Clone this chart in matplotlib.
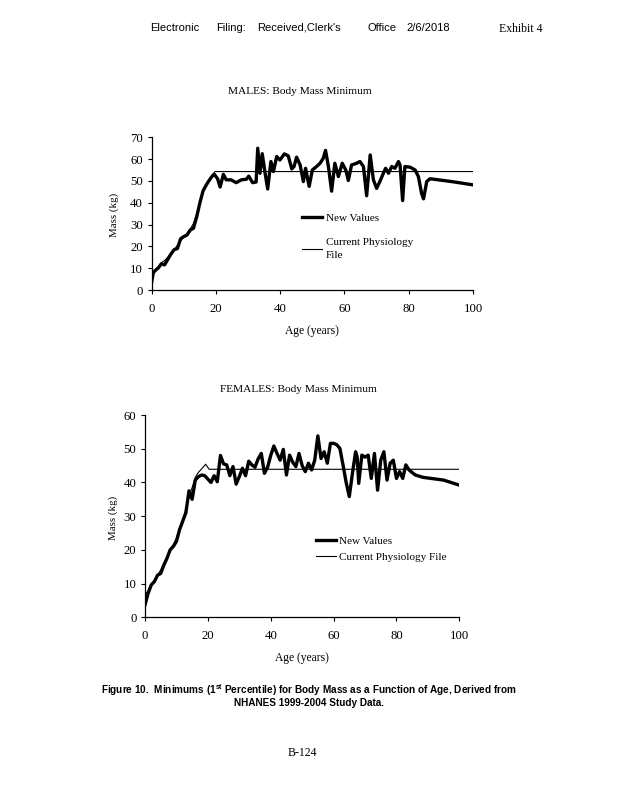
import matplotlib
matplotlib.use("Agg")
import matplotlib.pyplot as plt

plt.rcParams['font.family'] = ['Liberation Serif', 'DejaVu Serif']
plt.rcParams['mathtext.fontset'] = 'custom'
plt.rcParams['mathtext.bf'] = 'Liberation Sans:bold'
plt.rcParams['mathtext.rm'] = 'Liberation Sans'

# ---------------- data ----------------
male_new_age = [0, 0.5, 1.5, 2, 3, 4, 5, 6, 7, 8, 9, 10, 11, 12, 13, 14, 15, 16, 17, 18, 19,
                19.5, 20.5, 21.3, 22.3, 23.2, 24.7, 26.3, 27.9, 29.5, 30.2, 31.4, 32.5, 33,
                33.7, 34.4, 35.3, 36.1, 37.1, 37.9, 38.9, 39.9, 41.3, 42.5, 43.6, 44.3, 45.1,
                46.2, 47.2, 47.9, 49.0, 50, 51.3, 52.4, 53.4, 54.1, 55, 56, 57, 58.1, 59.3,
                60.4, 61.2, 62.2, 63.8, 64.8, 65.9, 66.9, 68, 69, 70, 71, 72.1, 72.8, 73.7,
                74.7, 75.7, 76.8, 77.3, 78.1, 78.8, 80.4, 82, 83, 84, 84.6, 85.6, 86.6,
                93.4, 100]
male_new_mass = [3.8, 8, 9.5, 10, 12, 11.5, 14, 16.5, 18.5, 19, 23.5, 24.5, 25.2, 27.5, 28.3,
                 33.5, 40, 45.5, 48.2, 50.5, 52.5, 53, 51, 47.2, 53, 50.5, 50.5, 49.2, 50.5,
                 50.8, 52.2, 49.2, 49.5, 65, 53.5, 62.5, 53.5, 46.3, 58.9, 54.3, 61.2, 59.6,
                 62.4, 61.5, 55.5, 56.6, 60.9, 57.3, 49.7, 55.8, 47.5, 55, 56.6, 58.1, 60.4,
                 64, 56.6, 45.3, 58.1, 52, 58.1, 55, 50.2, 57.3, 58.1, 58.9, 56.6, 43.2, 61.9,
                 50.5, 46.6, 49.7, 53.5, 55.8, 53.5, 56.6, 55.8, 58.9, 57.3, 41, 56.6, 56.3,
                 55, 52, 44.3, 41.8, 49.7, 51, 49.7, 48.2]

male_cur_age = [0, 1, 2, 3, 4, 5, 6, 7, 8, 9, 10, 11, 12, 13, 14, 15, 16, 17, 18, 19, 19.7, 100]
male_cur_mass = [6.5, 9, 10.5, 12.5, 13.5, 15, 17, 18.5, 20.5, 22.5, 24.5, 26, 28, 30.5, 35,
                 40, 45, 48.5, 51, 53, 54.3, 54.3]

female_new_age = [0, 1, 2, 3, 4, 5, 6, 7, 8, 9, 10, 11, 12, 13, 14, 15, 16, 17, 18, 19, 20,
                  21, 22, 23, 24, 25, 26, 27, 28, 29, 30, 31, 32, 33, 34, 35, 36, 37, 38, 39,
                  40, 41, 42, 43, 44, 45, 46, 47, 48, 49, 50, 51, 52, 53, 54, 55, 56, 57, 58,
                  59, 60, 61, 62, 63, 64, 65, 66, 67, 67.5, 68, 69, 70, 71, 72, 73, 74, 75,
                  76, 77, 78, 79, 80, 81, 82, 83, 84, 86, 88.5, 95, 100]
female_new_mass = [3.7, 7.1, 9.6, 10.6, 12.5, 13, 15.5, 17.5, 20, 21, 22.5, 26, 28.5, 31, 37.5,
                   35, 40.7, 41.7, 42.2, 42, 41, 40, 42, 40.2, 48, 45.5, 45.2, 42, 44.7, 39.5,
                   41.7, 44.2, 42, 46.3, 45.2, 44.5, 47, 48.6, 42.7, 44.5, 48, 50.8, 48.6,
                   46.6, 49.8, 42.2, 48.1, 46, 44.7, 48.6, 45, 43.2, 45.7, 43.7, 46.6, 53.8,
                   47.1, 49.1, 45.7, 51.6, 51.6, 51.2, 50.1, 45.2, 40, 35.8, 42.7, 49.1, 47.6,
                   39.7, 48.1, 47.5, 48.1, 41.2, 48.6, 37.7, 46.6, 49.1, 40.7, 45.7, 46.6,
                   41.2, 43.2, 41.2, 45.2, 43.7, 42.2, 41.5, 40.7, 39.2]

female_cur_age = [0, 1, 2, 3, 4, 5, 6, 7, 8, 9, 10, 11, 12, 13, 14, 15, 16, 17, 18, 19.3, 20.4, 100]
female_cur_mass = [6.5, 8, 10, 11, 12.5, 14, 16, 18, 20, 21.5, 23.5, 26.5, 29, 32, 35.5, 38.5,
                   41.5, 43, 44, 45.4, 43.9, 43.9]

male_yticks = [0, 10, 20, 30, 40, 50, 60, 70]
female_yticks = [0, 10, 20, 30, 40, 50, 60]
xticks = [0, 20, 40, 60, 80, 100]

# ---------------- figure ----------------
fig = plt.figure(figsize=(6.18, 8.0), dpi=100)
W, H = 618, 800


def axes_px(left, top, right, bottom):
    return fig.add_axes([left / W, 1 - bottom / H, (right - left) / W, (bottom - top) / H])


def style(ax, ymax, yticks, ylab_x, xlab_y):
    ax.set_xlim(0, 100)
    ax.set_ylim(0, ymax)
    ax.set_xticks(xticks)
    ax.set_yticks(yticks)
    for s in ['top', 'right']:
        ax.spines[s].set_visible(False)
    for s in ['left', 'bottom']:
        ax.spines[s].set_linewidth(0.9)
    ax.tick_params(direction='out', length=3, width=0.8, labelsize=9.2)
    ax.tick_params(axis='x', pad=6.5)
    ax.tick_params(axis='y', pad=3.2)
    ax.set_xlabel('Age (years)', fontsize=8.3, va='center')
    ax.set_ylabel('Mass (kg)', fontsize=7.8, va='center')
    ax.yaxis.set_label_coords(ylab_x, 0.49)
    ax.xaxis.set_label_coords(0.5, xlab_y)


ax1 = axes_px(151.7, 137.3, 473, 290)
ax1.plot(male_new_age, male_new_mass, color='black', lw=2.4, solid_joinstyle='round',
         label='New Values')
ax1.plot(male_cur_age, male_cur_mass, color='black', lw=0.8, label='Current Physiology\nFile')
style(ax1, 70, male_yticks, -0.116, -0.268)
leg1 = ax1.legend(loc='upper left', bbox_to_anchor=(0.455, 0.53), frameon=False, fontsize=8,
                  handlelength=1.8, handletextpad=0.3, labelspacing=1.35, borderaxespad=0)
leg1.get_texts()[1].set_linespacing(1.6)

ax2 = axes_px(145, 415, 459.3, 617.3)
ax2.plot(female_new_age, female_new_mass, color='black', lw=2.4, solid_joinstyle='round',
         label='New Values')
ax2.plot(female_cur_age, female_cur_mass, color='black', lw=0.8,
         label='Current Physiology File')
style(ax2, 60, female_yticks, -0.102, -0.201)
ax2.legend(loc='upper left', bbox_to_anchor=(0.53, 0.425), frameon=False, fontsize=8,
           handlelength=1.8, handletextpad=0.3, labelspacing=0.6, borderaxespad=0)

# titles
fig.text(300 / W, 1 - 92 / H, 'MALES: Body Mass Minimum', ha='center', va='center', fontsize=8.2)
fig.text(298 / W, 1 - 389 / H, 'FEMALES: Body Mass Minimum', ha='center', va='center',
         fontsize=8.2)

# header
sans = ['Liberation Sans', 'DejaVu Sans']
for word, x in [('Electronic', 150), ('Filing:', 216), ("Received,Clerk's", 257),
                ('Office', 367), ('2/6/2018', 406)]:
    fig.text(x / W, 1 - 28 / H, word, ha='left', va='center', fontsize=8, family=sans)
fig.text(499 / W, 1 - 29 / H, 'Exhibit 4', ha='left', va='center', fontsize=8.5)

# caption
fig.text(309 / W, 1 - 690 / H,
         r'Figure 10.  Minimums (1$^{\mathbf{st}}$ Percentile) for Body Mass as a Function of Age, Derived from',
         ha='center', va='center', fontsize=7.2, fontweight='bold', family=sans)
fig.text(309 / W, 1 - 703 / H, 'NHANES 1999-2004 Study Data.', ha='center', va='center',
         fontsize=7.2, fontweight='bold', family=sans)

# footer
fig.text(302 / W, 1 - 753 / H, 'B-124', ha='center', va='center', fontsize=8.5)

fig.savefig('out.png', dpi=100)
